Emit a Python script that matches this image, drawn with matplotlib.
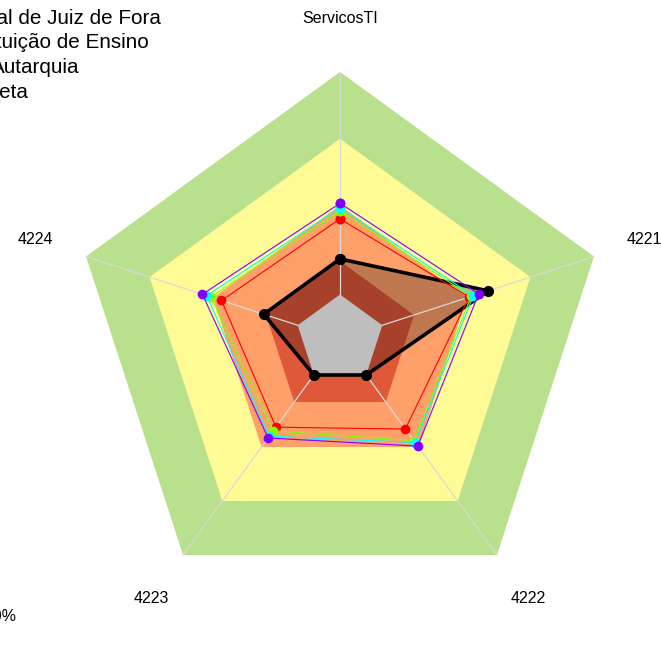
import numpy as np
import matplotlib
matplotlib.use("Agg")
import matplotlib.pyplot as plt

plt.rcParams['font.family'] = ['Liberation Sans', 'DejaVu Sans']

# ---- data ----
categories = ["ServicosTI", "4221", "4222", "4223", "4224"]
band_levels = [100, 70, 40, 15]
band_colors = ["#B9E08C", "#FFFC96", "#FFA06B", "#E0583A"]

series_names = ["Universidade Federal de Juiz de Fora", "Instituição de Ensino",
                "Autarquia", "Administração Direta"]
series_colors = ["#FF0000", "#80FF00", "#00FFFF", "#8000FF"]
red_vals = [34, 41, 30, 29, 36]
green_vals = [37.5, 42, 36.5, 31, 41]
cyan_vals = [39, 43, 37.5, 34, 43]
purple_vals = [41, 45.5, 39.5, 35, 45]
series_values = [red_vals, green_vals, cyan_vals, purple_vals]

black_vals = [16, 50, 0, 0, 16]
bottom_note = "100%"

# ---- figure ----
W, H = 661, 666
fig = plt.figure(figsize=(W / 100, H / 100), dpi=100)
cx, cy, R = 340, 339, 267
ax = fig.add_axes([(cx - R) / W, (H - cy - R) / H, 2 * R / W, 2 * R / H], projection='polar')
ax.set_theta_offset(np.pi / 2)
ax.set_theta_direction(-1)
ax.set_ylim(0, 100)
ax.set_rorigin(-20)
ax.set_axis_off()

n = len(categories)
theta = np.linspace(0, 2 * np.pi, n, endpoint=False)
theta_c = np.concatenate([theta, theta[:1]])

def closed(v):
    v = np.asarray(v, dtype=float)
    return np.concatenate([v, v[:1]])

# bands
for lvl, col in zip(band_levels, band_colors):
    ax.fill(theta_c, closed([lvl] * n), color=col, lw=0, zorder=1, clip_on=False)

# black series fill
ax.fill(theta_c, closed(black_vals), color="black", alpha=0.25, lw=0, zorder=2, clip_on=False)

# grey center
ax.fill(theta_c, closed([0] * n), color="#BEBEBE", lw=0, zorder=3, clip_on=False)

# radial axis lines
for t in theta:
    ax.plot([t, t], [0, 100], color="#D9D9D9", lw=0.9, zorder=4, clip_on=False)

# black series
ax.plot(theta_c, closed(black_vals), color="black", lw=2.6, zorder=5,
        marker="o", markersize=7, solid_joinstyle="miter", clip_on=False)

# colored series
for vals, col in zip(series_values, series_colors):
    ax.plot(theta_c, closed(vals), color=col, lw=0.8, zorder=6,
            marker="o", markersize=7, markeredgewidth=0, clip_on=False)

# axis labels
for t, lab in zip(theta, categories):
    ax.text(t, 124, lab, ha="center", va="center", fontsize=11.5, color="black")

# legend texts (cut off at left edge, as in the reference)
leg_end_x = [161, 149, 79, 28]
leg_base_y = [23.5, 48, 73, 98]
for name, xe, yb in zip(series_names, leg_end_x, leg_base_y):
    fig.text(xe / W, 1 - yb / H, name, ha="right", va="baseline", fontsize=14.9, color="black")

fig.text(17 / W, 1 - 621 / H, bottom_note, ha="right", va="baseline", fontsize=11.5, color="black")

fig.savefig("out.png", dpi=100, facecolor="white")
